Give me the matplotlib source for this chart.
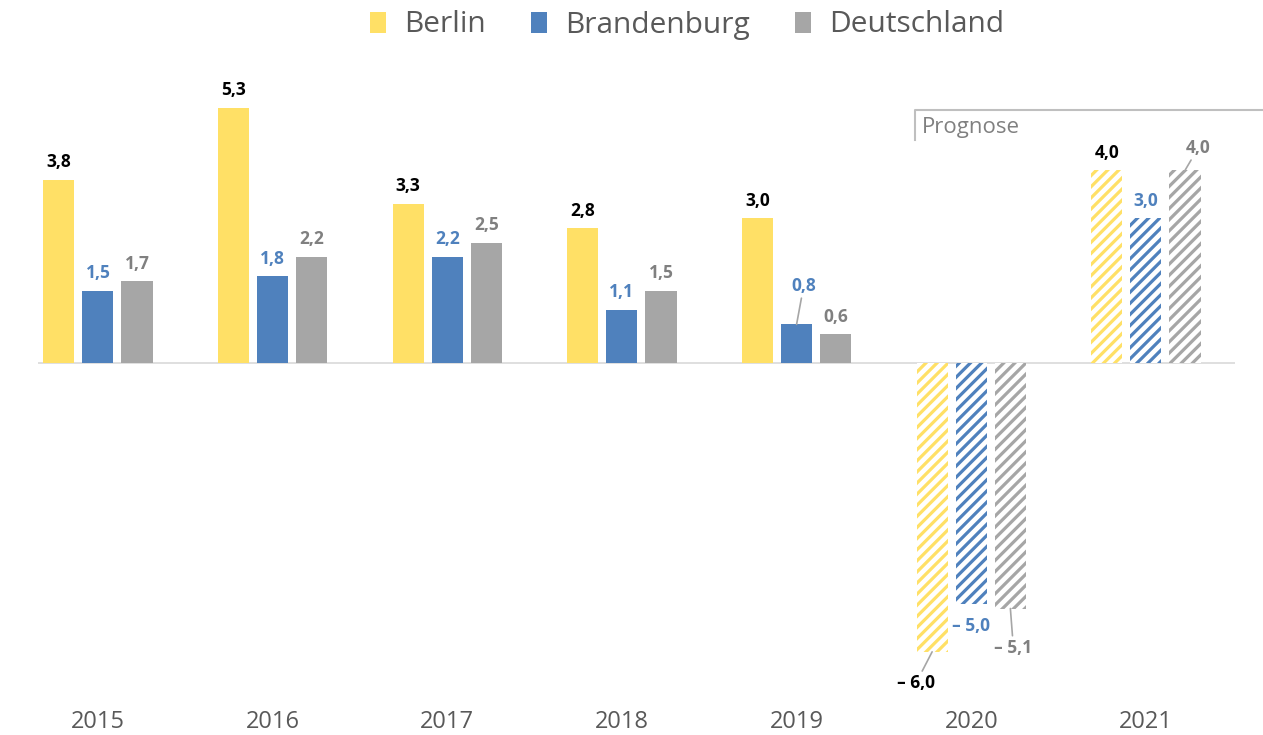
import numpy as np
from matplotlib import pyplot as plt
from matplotlib.patches import Patch
from matplotlib.lines import Line2D

plt.rcParams['font.family'] = ['Open Sans', 'DejaVu Sans']
plt.rcParams['hatch.linewidth'] = 2.3

# Daten (Wachstum in %)
jahre = ['2015', '2016', '2017', '2018', '2019', '2020', '2021']
berlin = [3.8, 5.3, 3.3, 2.8, 3.0, -6.0, 4.0]
brandenburg = [1.5, 1.8, 2.2, 1.1, 0.8, -5.0, 3.0]
deutschland = [1.7, 2.2, 2.5, 1.5, 0.6, -5.1, 4.0]
prognose_ab = 5  # Index ab dem Prognose gilt

serien = ['Berlin', 'Brandenburg', 'Deutschland']
farben = ['#FFE066', '#4F81BD', '#A6A6A6']
labelfarben = ['#000000', '#4F81BD', '#808080']

fig = plt.figure(figsize=(12.63, 7.35), dpi=100)
ax = fig.add_axes([38/1263, 35/735, (1235-38)/1263, (700-60)/735])

ind = np.arange(len(jahre))
width = 0.178
offset = 0.224

werte = [berlin, brandenburg, deutschland]
for s in range(3):
    for i in range(len(jahre)):
        x = ind[i] + (s - 1) * offset
        v = werte[s][i]
        if i >= prognose_ab:
            ax.bar(x, v, width, facecolor='white', edgecolor=farben[s], hatch='///', linewidth=0)
        else:
            ax.bar(x, v, width, color=farben[s], linewidth=0)

ax.axhline(0, color='#D9D9D9', linewidth=1.2, zorder=0)

def fmt(v):
    t = ('%.1f' % abs(v)).replace('.', ',')
    if v < 0:
        t = '\u2013 ' + t
    return t

# Standard-Beschriftungen über den Balken
sonder = {(1, 4), (2, 6), (0, 5), (1, 5), (2, 5)}
for s in range(3):
    for i in range(len(jahre)):
        if (s, i) in sonder:
            continue
        v = werte[s][i]
        ax.annotate(fmt(v), (ind[i] + (s - 1) * offset, v), xytext=(0, 9), textcoords='offset points',
                    ha='center', va='baseline', fontsize=12.5, fontweight='bold', color=labelfarben[s])

# Beschriftungen mit Führungslinie / versetzt
def label_versetzt(s, i, dx, dy, linie=True):
    v = werte[s][i]
    ap = dict(arrowstyle='-', color='#A6A6A6', lw=1.2, shrinkA=0, shrinkB=0) if linie else None
    ax.annotate(fmt(v), (ind[i] + (s - 1) * offset, v), xytext=(dx, dy), textcoords='offset pixels',
                ha='center', va='baseline', fontsize=12.5, fontweight='bold', color=labelfarben[s],
                arrowprops=ap)

label_versetzt(1, 4, 7, 33)
label_versetzt(2, 6, 13, 17)
label_versetzt(0, 5, -16, -36)
label_versetzt(1, 5, 0, -27, linie=False)
label_versetzt(2, 5, 3, -44)

# Prognose-Klammer
ax.add_line(Line2D([4.677, 4.677, 6.7], [4.63, 5.25, 5.25], color='#BFBFBF', linewidth=1.5, clip_on=False))
ax.text(4.72, 4.78, 'Prognose', fontsize=16, color='#808080', ha='left', va='baseline')

ax.set_xlim(-0.343, 6.51)
ax.set_ylim(-7.0, 6.29)
ax.set_xticks(ind)
ax.set_xticklabels(jahre, fontsize=17, color='#595959')
ax.tick_params(axis='x', length=0, pad=7)
ax.set_yticks([])
for sp in ax.spines.values():
    sp.set_visible(False)

handles = [Patch(facecolor=farben[s], edgecolor='none', label=serien[s]) for s in range(3)]
fig.legend(handles=handles, loc='center', bbox_to_anchor=(0.544, 1 - 25/735), ncol=3, frameon=False,
           fontsize=21.5, handlelength=0.55, handleheight=0.7, handletextpad=0.6, columnspacing=1.5,
           labelcolor='#595959')

plt.savefig('out.png', dpi=100)
